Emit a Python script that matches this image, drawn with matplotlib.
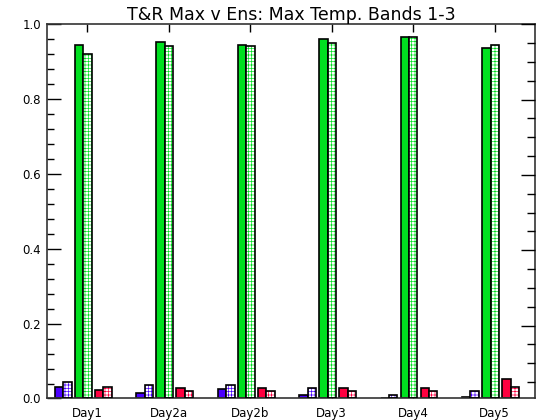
import matplotlib
matplotlib.use("Agg")
import matplotlib.pyplot as plt
from matplotlib.ticker import MultipleLocator, NullFormatter
import numpy as np

days = ["Day1", "Day2a", "Day2b", "Day3", "Day4", "Day5"]
blue_solid = [0.030, 0.016, 0.026, 0.009, 0.002, 0.005]
blue_hatch = [0.045, 0.035, 0.035, 0.028, 0.009, 0.020]
green_solid = [0.944, 0.953, 0.945, 0.960, 0.967, 0.937]
green_hatch = [0.920, 0.942, 0.942, 0.950, 0.967, 0.945]
red_solid = [0.023, 0.027, 0.027, 0.027, 0.027, 0.052]
red_hatch = [0.030, 0.020, 0.020, 0.020, 0.020, 0.030]

BLUE = "#4B00FF"
GREEN = "#00E020"
RED = "#FF0040"

plt.rcParams["hatch.linewidth"] = 0.5

fig = plt.figure(figsize=(5.4, 4.2), dpi=100)
ax = fig.add_axes([0.0865, 0.0512, 0.9048, 0.8909])

x = np.arange(len(days))
w = 0.1025
pair_centers = [-0.296, -0.050, 0.196]
series = [(blue_solid, blue_hatch, BLUE), (green_solid, green_hatch, GREEN), (red_solid, red_hatch, RED)]
for (solid, hatch, col), pc in zip(series, pair_centers):
    xs = x + pc - w / 2
    xh = x + pc + w / 2
    ax.bar(xs, solid, width=w, color=col, edgecolor="black", linewidth=1.2, zorder=2)
    ax.bar(xh, hatch, width=w, facecolor="white", edgecolor=col, hatch="+++++", linewidth=0, zorder=2)
    ax.bar(xh, hatch, width=w, fill=False, edgecolor="black", linewidth=1.2, zorder=3)

ax.set_xlim(-0.5, 5.5)
ax.set_ylim(0, 1.0)
ax.set_xticks(x)
ax.set_xticklabels(days, fontsize=8.5)
ax.yaxis.set_major_locator(MultipleLocator(0.2))
ax.yaxis.set_minor_locator(MultipleLocator(0.04))
ax.set_yticklabels([f"{v:.1f}" for v in ax.get_yticks()], fontsize=8.5)
ax.tick_params(axis="y", which="major", direction="in", length=10, width=1, pad=4, left=True, right=False)
ax.tick_params(axis="y", which="minor", direction="in", length=5, width=1, left=True, right=False)
ax.tick_params(axis="x", which="major", direction="in", length=6, width=1, pad=6, top=True, bottom=True)
for s in ax.spines.values():
    s.set_linewidth(1.2)
    s.set_color("#333333")

# right axis with its own tick spacing
ax2 = ax.twinx()
ax2.set_ylim(1.0 - 374 / 376.5, 1.0)
ax2.yaxis.set_major_locator(MultipleLocator(0.2))
ax2.yaxis.set_minor_locator(MultipleLocator(0.05))
ax2.yaxis.set_major_formatter(NullFormatter())
ax2.tick_params(axis="y", which="major", direction="in", length=10, width=1)
ax2.tick_params(axis="y", which="minor", direction="in", length=6, width=1)
for s in ax2.spines.values():
    s.set_visible(False)

ax.set_title("T&R Max v Ens: Max Temp. Bands 1-3", fontsize=12.5, pad=3)

fig.savefig("out.png", dpi=100)
